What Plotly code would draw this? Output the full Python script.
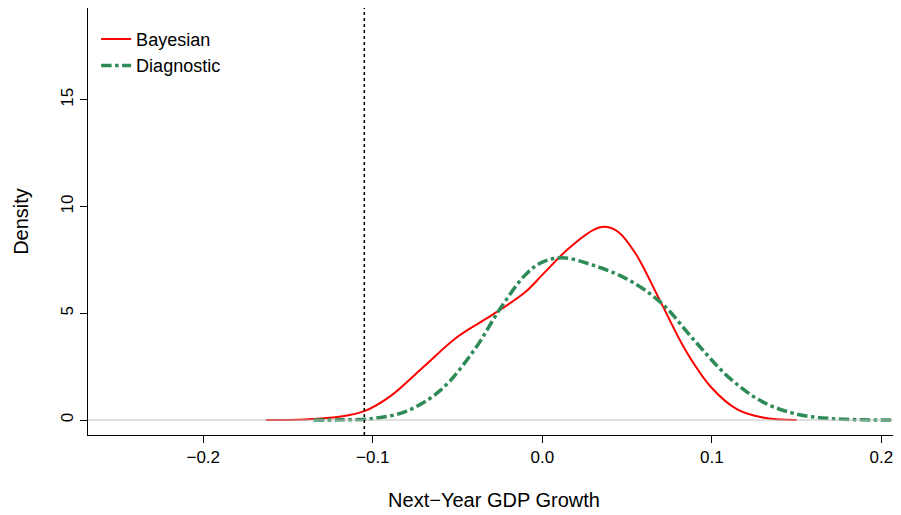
import plotly.graph_objects as go

bayes_x = [-0.163, -0.14, -0.12, -0.105, -0.09, -0.07, -0.05, -0.03, -0.01, 0.0, 0.015, 0.03, 0.037, 0.045, 0.055, 0.07, 0.085, 0.1, 0.115, 0.13, 0.15]
bayes_y = [0.0, 0.03, 0.15, 0.42, 1.1, 2.5, 3.9, 4.9, 6.0, 6.8, 8.0, 8.9, 9.05, 8.8, 7.8, 5.5, 3.2, 1.5, 0.5, 0.12, 0.0]
diag_x = [-0.135, -0.12, -0.1, -0.08, -0.06, -0.04, -0.025, -0.01, 0.0, 0.012, 0.03, 0.05, 0.07, 0.09, 0.11, 0.13, 0.15, 0.17, 0.19, 0.21]
diag_y = [0.0, 0.01, 0.07, 0.42, 1.4, 3.3, 5.2, 6.8, 7.4, 7.6, 7.25, 6.6, 5.5, 3.7, 2.0, 0.85, 0.28, 0.07, 0.01, 0.0]
threshold = -0.105

fig = go.Figure()
fig.add_hline(y=0, line=dict(color="#bebebe", width=1))
fig.add_vline(x=threshold, line=dict(color="black", width=1.5, dash="dot"))
fig.add_trace(go.Scatter(x=bayes_x, y=bayes_y, mode="lines", name="Bayesian",
                         line=dict(color="red", width=2, shape="spline", smoothing=1)))
fig.add_trace(go.Scatter(x=diag_x, y=diag_y, mode="lines", name="Diagnostic",
                         line=dict(color="#2E8B57", width=3.5, shape="spline", smoothing=1, dash="dashdot")))
ax = dict(showgrid=False, zeroline=False, showline=True, linecolor="black", mirror=False,
          ticks="outside", ticklen=7, tickcolor="black", tickfont=dict(size=17, color="black"),
          automargin=False)
fig.update_layout(
    width=901, height=515, plot_bgcolor="white", paper_bgcolor="white",
    margin=dict(l=80, r=9, t=0, b=88),
    font=dict(family="Liberation Sans, Arial", size=17, color="black"),
    xaxis=dict(ax, range=[-0.268, 0.211], tickvals=[-0.2, -0.1, 0.0, 0.1, 0.2],
               ticktext=["\u22120.2", "\u22120.1", "0.0", "0.1", "0.2"],
               title=dict(text="Next\u2212Year GDP Growth", standoff=26)),
    yaxis=dict(ax, range=[-0.7, 19.3], tickvals=[0, 5, 10, 15], tickangle=-90,
               title=dict(text="Density", standoff=24)),
    legend=dict(x=0.01, y=0.97, bgcolor="rgba(0,0,0,0)", font=dict(size=18)),
)
fig.write_html("out.html")
